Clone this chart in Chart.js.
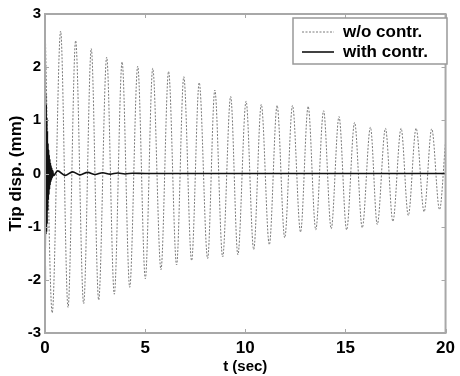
<!DOCTYPE html>
<html><head><meta charset="utf-8">
<script src="https://cdn.jsdelivr.net/npm/chart.js@4.4.0/dist/chart.umd.min.js"></script>
<style>html,body{margin:0;padding:0;background:#fff;}</style>
</head><body>
<canvas id="c" width="460" height="376"></canvas>
<script>
const seriesNames = ['w/o contr.', 'with contr.'];
// without control: start value, then alternating troughs/peaks
const woTime = [0, 0.36, 0.78, 1.15, 1.53, 1.93, 2.31, 2.68, 3.08, 3.46, 3.85, 4.23, 4.63, 5.01, 5.38, 5.79, 6.17, 6.57, 6.93, 7.32, 7.70, 8.12, 8.48, 8.87, 9.27, 9.63, 10.04, 10.42, 10.80, 11.20, 11.59, 11.97, 12.36, 12.76, 13.14, 13.52, 13.91, 14.29, 14.68, 15.06, 15.46, 15.84, 16.25, 16.59, 17.00, 17.37, 17.78, 18.14, 18.53, 18.93, 19.31, 19.70, 20.0];
const woDisp = [2.9, -2.62, 2.68, -2.52, 2.50, -2.45, 2.35, -2.38, 2.19, -2.27, 2.10, -2.14, 2.02, -1.98, 1.98, -1.81, 1.92, -1.72, 1.82, -1.64, 1.71, -1.60, 1.57, -1.57, 1.45, -1.53, 1.36, -1.43, 1.30, -1.34, 1.28, -1.21, 1.28, -1.10, 1.26, -1.06, 1.18, -1.04, 1.07, -1.06, 0.96, -1.02, 0.87, -0.96, 0.85, -0.90, 0.85, -0.79, 0.85, -0.72, 0.84, -0.68, 0.6];
// with control: fast decaying transient then small slow ripple
const wTime = [0, 0.015, 0.03, 0.045, 0.06, 0.075, 0.09, 0.105, 0.12, 0.135, 0.15, 0.165, 0.18, 0.195, 0.21, 0.225, 0.24, 0.255, 0.27, 0.285, 0.30, 0.32, 0.34, 0.36, 0.39, 0.42, 0.63, 1.0, 1.38, 1.75, 2.13, 2.5, 2.88, 3.25, 3.63, 4.0, 4.38, 5.0, 20];
const wDisp = [1.65, -2.0, 1.5, -1.15, 1.3, -1.1, 1.05, -0.95, 0.8, -0.7, 0.57, -0.5, 0.45, -0.4, 0.35, -0.3, 0.27, -0.22, 0.2, -0.16, 0.15, -0.12, 0.1, -0.08, 0.05, -0.04, 0.05, -0.035, 0.03, -0.025, 0.022, -0.018, 0.015, -0.012, 0.01, -0.008, 0.006, 0, 0];
const xTicks = [0, 5, 10, 15, 20];
const yTicks = [-3, -2, -1, 0, 1, 2, 3];
const xTitle = 't (sec)';
const yTitle = 'Tip disp. (mm)';

const FONT = "'Liberation Sans', Arial, sans-serif";
const toXY = (xs, ys) => xs.map((x, i) => ({x: x, y: ys[i]}));

const frame = {
  id: 'frame',
  afterDatasetsDraw(chart) {
    const {ctx, chartArea: a, scales} = chart;
    ctx.save();
    ctx.strokeStyle = '#a8a8a8';
    ctx.lineWidth = 2;
    ctx.strokeRect(a.left, a.top, a.right - a.left, a.bottom - a.top);
    ctx.lineWidth = 1;
    ctx.beginPath();
    xTicks.forEach(v => {
      const px = Math.round(scales.x.getPixelForValue(v)) + 0.5;
      ctx.moveTo(px, a.bottom); ctx.lineTo(px, a.bottom - 4);
      ctx.moveTo(px, a.top); ctx.lineTo(px, a.top + 4);
    });
    yTicks.forEach(v => {
      const py = Math.round(scales.y.getPixelForValue(v)) + 0.5;
      ctx.moveTo(a.left, py); ctx.lineTo(a.left + 4, py);
      ctx.moveTo(a.right, py); ctx.lineTo(a.right - 4, py);
    });
    ctx.stroke();
    ctx.restore();
  },
  afterDraw(chart) {
    const {ctx} = chart;
    ctx.save();
    const bx = 293, by = 18, bw = 154, bh = 46;
    ctx.fillStyle = '#fff';
    ctx.fillRect(bx, by, bw, bh);
    ctx.strokeStyle = '#999';
    ctx.lineWidth = 1.5;
    ctx.strokeRect(bx, by, bw, bh);
    const rows = [chart.data.datasets[0], chart.data.datasets[1]];
    rows.forEach((ds, i) => {
      const y = 32 + i * 20;
      ctx.strokeStyle = ds.borderColor;
      ctx.lineWidth = ds.borderWidth;
      ctx.setLineDash(ds.borderDash || []);
      ctx.beginPath(); ctx.moveTo(302, y); ctx.lineTo(334, y); ctx.stroke();
      ctx.setLineDash([]);
      ctx.fillStyle = '#000';
      ctx.font = 'bold 17px ' + FONT;
      ctx.textBaseline = 'middle';
      ctx.textAlign = 'left';
      ctx.fillText(ds.label, 343, y);
    });
    ctx.restore();
  }
};

new Chart(document.getElementById('c'), {
  type: 'line',
  data: {
    datasets: [
      {label: seriesNames[0], data: toXY(woTime, woDisp), borderColor: '#7a7a7a', borderWidth: 1, borderDash: [2, 1.5], pointRadius: 0, cubicInterpolationMode: 'monotone', order: 2},
      {label: seriesNames[1], data: toXY(wTime, wDisp), borderColor: '#111', borderWidth: 1.6, pointRadius: 0, cubicInterpolationMode: 'monotone', order: 1}
    ]
  },
  options: {
    responsive: false,
    animation: false,
    devicePixelRatio: 1,
    layout: {padding: {top: 14, right: 10, left: 0, bottom: 0}},
    plugins: {legend: {display: false}, tooltip: {enabled: false}},
    scales: {
      x: {
        type: 'linear', min: 0, max: 20,
        afterBuildTicks: s => { s.ticks = xTicks.map(v => ({value: v})); },
        afterFit: s => { s.height = 43; },
        grid: {display: false, drawTicks: false},
        border: {display: false},
        ticks: {color: '#000', font: {family: FONT, size: 17, weight: 'bold'}, padding: 5, maxRotation: 0},
        title: {display: true, text: xTitle, color: '#000', font: {family: FONT, size: 15, weight: 'bold'}, padding: 0}
      },
      y: {
        type: 'linear', min: -3, max: 3,
        afterBuildTicks: s => { s.ticks = yTicks.map(v => ({value: v})); },
        afterFit: s => { s.width = 45; },
        grid: {display: false, drawTicks: false},
        border: {display: false},
        ticks: {color: '#000', font: {family: FONT, size: 15, weight: 'bold'}, padding: 4},
        title: {display: true, text: yTitle, color: '#000', font: {family: FONT, size: 17, weight: 'bold'}, padding: {top: 6, bottom: 0}}
      }
    }
  },
  plugins: [frame]
});
</script>
</body></html>
